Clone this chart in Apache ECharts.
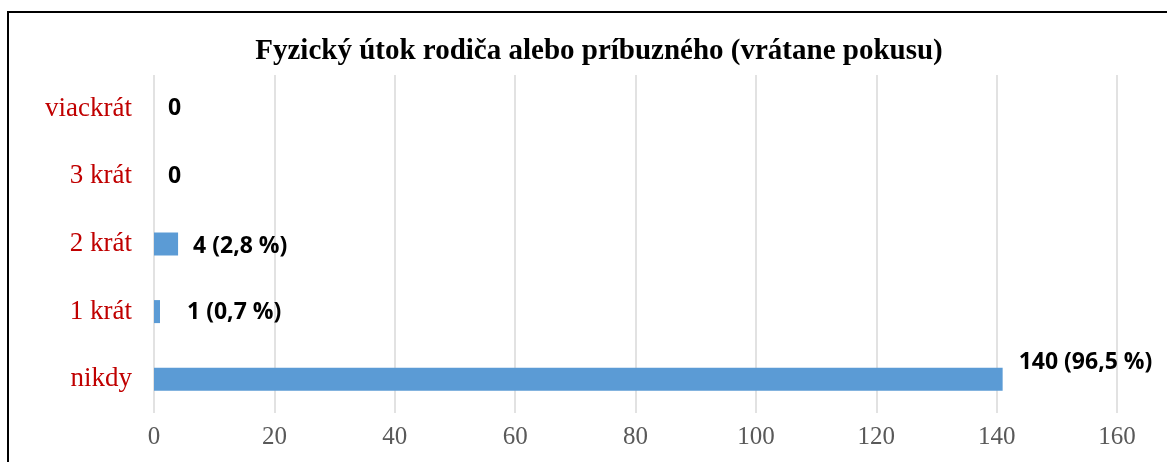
<!DOCTYPE html>
<html>
<head>
<meta charset="utf-8">
<script src="https://cdn.jsdelivr.net/npm/echarts@6/dist/echarts.min.js"></script>
<style>
  html, body { margin: 0; padding: 0; background: #fff; }
  #frame { position: absolute; left: 7px; top: 11px; width: 1200px; height: 500px; border: 2px solid #000; box-sizing: border-box; }
  #chart { position: absolute; left: 0; top: 0; width: 1167px; height: 462px; }
</style>
</head>
<body>
<div id="frame"></div>
<div id="chart"></div>
<script>
// kategorie zhora nadol
var kategorie = ["viackrát", "3 krát", "2 krát", "1 krát", "nikdy"];
var pocty = [0, 0, 4, 1, 141];
var popisky = ["0", "0", "4 (2,8 %)", "1 (0,7 %)", "140 (96,5 %)"];
var osX = [0, 20, 40, 60, 80, 100, 120, 140, 160];

// posuny popiskov ako v povodnom grafe
var odstup = [14, 14, 15, 27, 16];
var posunY = [0, 0, 2, 1, -17];

var myChart = echarts.init(document.getElementById("chart"));

var data = pocty.map(function (v, i) {
    return {
        value: v,
        label: { distance: odstup[i], offset: [0, posunY[i]] }
    };
});

var option = {
    animation: false,
    title: {
        text: "Fyzický útok rodiča alebo príbuzného (vrátane pokusu)",
        left: 594,
        textAlign: "center",
        top: 32,
        textStyle: { fontFamily: "Liberation Serif", fontWeight: "bold", fontSize: 29, color: "#000" }
    },
    grid: { left: 154, right: 50, top: 75, bottom: 49 },
    xAxis: {
        type: "value",
        min: osX[0],
        max: osX[osX.length - 1],
        interval: 20,
        axisLine: { show: false },
        axisTick: { show: false },
        axisLabel: { fontFamily: "Liberation Serif", fontSize: 25, color: "#595959", margin: 12 },
        splitLine: { lineStyle: { color: "#d9d9d9", width: 1.5 } }
    },
    yAxis: {
        type: "category",
        inverse: true,
        data: kategorie,
        axisLine: { show: false },
        axisTick: { show: false },
        axisLabel: { fontFamily: "Liberation Serif", fontSize: 27, color: "#c00000", margin: 22 }
    },
    series: [{
        type: "bar",
        data: data,
        barWidth: 23,
        itemStyle: { color: "#5b9bd5" },
        label: {
            show: true,
            position: "right",
            fontFamily: "Open Sans",
            fontWeight: "bold",
            fontSize: 23,
            color: "#000",
            formatter: function (p) { return popisky[p.dataIndex]; }
        }
    }]
};
myChart.setOption(option);
</script>
</body>
</html>
